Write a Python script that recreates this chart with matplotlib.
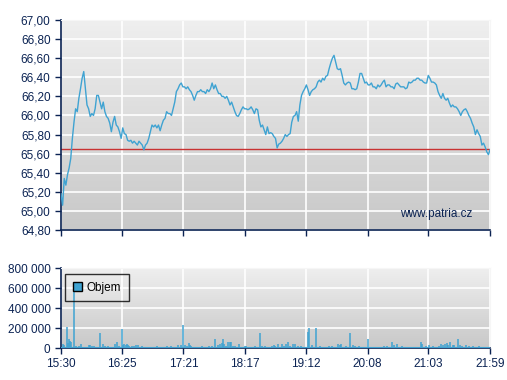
import numpy as np
import matplotlib
matplotlib.use("Agg")
import matplotlib.pyplot as plt
from matplotlib.colors import LinearSegmentedColormap
from matplotlib.patches import Patch

# price, evenly spaced from 15:30 to 21:59
price = [
    65.18, 65.06, 65.34, 65.27, 65.38, 65.45, 65.55, 65.76, 65.93, 66.07,
    66.04, 66.18, 66.28, 66.39, 66.46, 66.28, 66.11, 66.07, 65.99, 66.02,
    66.00, 66.07, 66.21, 66.21, 66.14, 66.07, 66.14, 66.04, 65.99, 65.97,
    65.92, 65.83, 65.93, 65.99, 65.90, 65.88, 65.83, 65.76, 65.87, 65.81,
    65.80, 65.74, 65.73, 65.74, 65.71,
    65.73, 65.71, 65.69, 65.73, 65.71, 65.69, 65.64, 65.69, 65.71, 65.76,
    65.83, 65.90, 65.88, 65.90, 65.87, 65.90, 65.84, 65.90, 65.95, 65.97,
    66.04, 66.02, 66.02, 66.00, 66.07, 66.14, 66.25, 66.28, 66.32, 66.34,
    66.30, 66.30, 66.28, 66.30, 66.27, 66.25, 66.21, 66.16, 66.21, 66.25,
    66.25, 66.27, 66.25,
    66.25, 66.23, 66.27, 66.25, 66.28, 66.34, 66.28, 66.32, 66.27, 66.23,
    66.23, 66.20, 66.20, 66.18, 66.20, 66.16, 66.11, 66.14, 66.09, 66.04,
    66.00, 65.99, 66.02, 66.06, 66.09, 66.07, 66.07, 66.06, 66.07, 66.09,
    66.06, 66.02, 66.07, 66.06, 65.95, 65.88, 65.90, 65.85, 65.80, 65.88,
    65.81, 65.82,
    65.81, 65.78, 65.76, 65.66, 65.70, 65.71, 65.73, 65.76, 65.80, 65.78,
    65.80, 65.81, 65.93, 65.99, 66.00, 66.04, 65.94, 66.11, 66.21, 66.25,
    66.28, 66.32, 66.27, 66.21, 66.25, 66.27, 66.28, 66.30, 66.35, 66.37,
    66.35, 66.39, 66.37, 66.41, 66.42, 66.49, 66.55, 66.60, 66.63, 66.56,
    66.49, 66.48, 66.49,
    66.42, 66.34, 66.32, 66.34, 66.35, 66.34, 66.28, 66.28, 66.27, 66.28,
    66.35, 66.44, 66.44, 66.39, 66.34, 66.35, 66.32, 66.32, 66.34, 66.30,
    66.30, 66.28, 66.32, 66.30, 66.32, 66.35, 66.37, 66.30, 66.32, 66.32,
    66.30, 66.30, 66.28, 66.33, 66.34, 66.32, 66.30, 66.30, 66.30, 66.28,
    66.29, 66.35,
    66.34, 66.35, 66.37, 66.37, 66.39, 66.39, 66.37, 66.37, 66.35, 66.34,
    66.34, 66.42, 66.39, 66.35, 66.35, 66.34, 66.32, 66.25, 66.21, 66.18,
    66.23, 66.18, 66.16, 66.18, 66.13, 66.09, 66.11, 66.09, 66.09, 66.07,
    66.04, 66.00, 66.04, 66.06, 66.07, 66.04, 66.00, 65.97, 65.92, 65.88,
    65.80, 65.85, 65.81, 65.78, 65.69, 65.71, 65.67, 65.62, 65.59, 65.64,
]
prev_close = 65.645

# volume: minute after 15:30 and traded amount
vol_minute = [
    2, 3, 5, 6, 7, 8, 9, 12, 14, 16, 18, 25, 26, 28, 30, 31, 35, 38, 40, 43,
    49, 51, 53, 55, 56, 57, 59, 60, 61, 62, 64, 66, 68, 70, 73, 78, 84, 87, 91, 96,
    100, 106, 109, 111, 112, 114, 116, 117, 118, 121, 128, 131, 134, 137, 140, 142, 144, 146, 147, 148,
    150, 151, 153, 154, 156, 158, 161, 167, 168, 176, 180, 182, 185, 191, 193, 194, 197, 200, 202, 204,
    206, 208, 210, 212, 215, 218, 224, 225, 228, 231, 235, 243, 246, 251, 253, 254, 258, 262, 265, 267,
    270, 278, 284, 288, 293, 296, 300, 302, 305, 309, 314, 318, 326, 327, 331, 334, 337, 343, 345, 346,
    348, 350, 351, 353, 355, 356, 360, 362, 364, 367, 370, 374, 379, 385,
]
vol_value = [
    37000, 27000, 215000, 54000, 94000, 70000, 60000, 660000, 20000, 20000,
    37000, 27000, 27000, 20000, 20000, 13000, 155000, 37000, 20000, 20000,
    44000, 64000, 20000, 195000, 27000, 37000, 30000, 44000, 27000, 20000,
    20000, 20000, 27000, 27000, 20000, 13000, 13000, 20000, 13000, 20000,
    20000, 27000, 27000, 235000, 27000, 20000, 54000, 27000, 20000, 13000,
    20000, 13000, 20000, 20000, 94000, 27000, 37000, 54000, 87000, 37000,
    20000, 64000, 64000, 64000, 20000, 20000, 44000, 20000, 20000, 20000,
    155000, 20000, 20000, 20000, 27000, 20000, 37000, 37000, 20000, 44000,
    64000, 20000, 44000, 37000, 20000, 20000, 165000, 200000, 27000, 200000,
    20000, 20000, 20000, 37000, 27000, 37000, 20000, 155000, 27000, 20000,
    20000, 94000, 13000, 13000, 20000, 20000, 60000, 27000, 37000, 20000,
    13000, 13000, 64000, 37000, 20000, 27000, 20000, 20000, 37000, 27000,
    37000, 47000, 27000, 60000, 27000, 27000, 87000, 27000, 20000, 27000,
    20000, 20000, 20000, 13000,
]

tick_labels = ["15:30", "16:25", "17:21", "18:17", "19:12", "20:08", "21:03", "21:59"]

blue = "#3fa3d2"
navy = "#0b2353"

def to_minutes(label):
    h, m = label.split(":")
    return (int(h) - 15) * 60 + int(m) - 30

tick_pos = [to_minutes(t) for t in tick_labels]
t_end = tick_pos[-1]
t_price = np.linspace(0, t_end, len(price))

plt.rcParams["font.family"] = ["Liberation Sans", "DejaVu Sans"]
plt.rcParams["font.size"] = 8.5

fig = plt.figure(figsize=(5.07, 3.8), dpi=100)
ax = fig.add_axes([0.1203, 0.3947, 0.8462, 0.5526])
axv = fig.add_axes([0.1203, 0.0842, 0.8462, 0.2105])

grad = LinearSegmentedColormap.from_list("bg", ["#efefef", "#c8c8c8"])


def style_axes(a, ylo, yhi):
    # gray gradient backdrop, white grid, navy axes
    a.imshow(np.linspace(0, 1, 256).reshape(-1, 1), extent=[0, t_end, ylo, yhi],
             aspect="auto", cmap=grad, zorder=0)
    a.set_xlim(0, t_end)
    a.set_ylim(ylo, yhi)
    a.set_axisbelow(True)
    a.grid(color="white", lw=1.2)
    for s in ["top", "right"]:
        a.spines[s].set_color("#f6f6f6")
    for s in ["left", "bottom"]:
        a.spines[s].set_color(navy)
        a.spines[s].set_linewidth(1.2)
    a.tick_params(colors=navy, labelcolor=navy, length=4, width=1, direction="out")
    a.set_xticks(tick_pos)


# price panel
style_axes(ax, 64.8, 67.0)
ax.plot(t_price, price, color=blue, lw=1, zorder=3)
ax.axhline(prev_close, color="#c83232", lw=1, zorder=2.5)
ax.set_yticks(np.arange(64.8, 67.01, 0.2))
ax.set_yticklabels([f"{v:.2f}".replace(".", ",") for v in np.arange(64.8, 67.01, 0.2)])
ax.set_xticklabels([])
ax.text(0.96, 0.075, "www.patria.cz", transform=ax.transAxes, ha="right",
        va="center", color=navy, fontsize=8.5)

# volume panel - one thin bar per traded minute
style_axes(axv, 0, 800000)
axv.vlines(vol_minute, 0, vol_value, color=blue, lw=1.1, zorder=3)
axv.axhline(0, color=blue, lw=1.5, zorder=3)
axv.set_yticks(range(0, 800001, 200000))
axv.set_yticklabels([f"{v:,}".replace(",", " ") for v in range(0, 800001, 200000)])
axv.set_xticklabels(tick_labels)
leg = axv.legend(handles=[Patch(facecolor=blue, edgecolor="black", lw=1)], labels=["Objem"],
                 loc="upper left", bbox_to_anchor=(0.009, 0.925), borderaxespad=0,
                 handlelength=0.8, handleheight=0.8, handletextpad=0.4,
                 fancybox=False, fontsize=8.5, borderpad=0.65)
leg.get_frame().set_facecolor("none")
leg.get_frame().set_edgecolor("black")
leg.get_frame().set_linewidth(1)

fig.savefig("out.png", dpi=100)
